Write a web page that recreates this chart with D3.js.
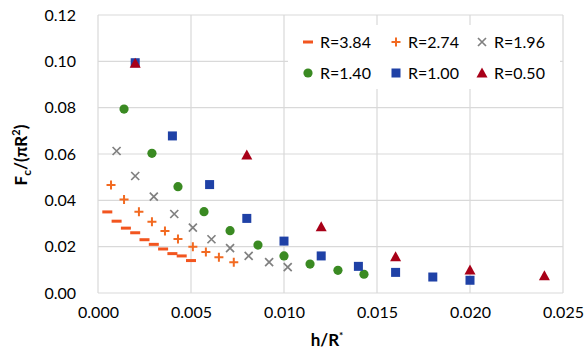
<!DOCTYPE html>
<html>
<head>
<meta charset="utf-8">
<script src="https://cdn.jsdelivr.net/npm/d3@7"></script>
<style>
body{margin:0;background:#fff;}
text{font-family:Lato,"Open Sans",sans-serif;fill:#000;}
</style>
</head>
<body>
<div id="chart"></div>
<script>
// valores
var xTicks = [0, 0.005, 0.010, 0.015, 0.020, 0.025];
var yTicks = [0, 0.02, 0.04, 0.06, 0.08, 0.10, 0.12];

var x384 = [0.0005, 0.0010, 0.0015, 0.0020, 0.0025, 0.0030, 0.0035, 0.0040, 0.0045, 0.0050];
var y384 = [0.035, 0.031, 0.028, 0.026, 0.023, 0.021, 0.019, 0.017, 0.016, 0.014];

var x274 = [0.0007, 0.0014, 0.0022, 0.0029, 0.0036, 0.0043, 0.0051, 0.0058, 0.0065, 0.0073];
var y274 = [0.0466, 0.0404, 0.0351, 0.0308, 0.0268, 0.0233, 0.0200, 0.0177, 0.0154, 0.0133];

var x196 = [0.0010, 0.0020, 0.0030, 0.0041, 0.0051, 0.0061, 0.0071, 0.0081, 0.0092, 0.0102];
var y196 = [0.0613, 0.0505, 0.0416, 0.0341, 0.0282, 0.0232, 0.0194, 0.0160, 0.0133, 0.0112];

var x140 = [0.0014, 0.0029, 0.0043, 0.0057, 0.0071, 0.0086, 0.0100, 0.0114, 0.0129, 0.0143];
var y140 = [0.0794, 0.0603, 0.0459, 0.0351, 0.0269, 0.0207, 0.0160, 0.0125, 0.0098, 0.0081];

var x100 = [0.002, 0.004, 0.006, 0.008, 0.010, 0.012, 0.014, 0.016, 0.018, 0.020];
var y100 = [0.0994, 0.0678, 0.0468, 0.0322, 0.0224, 0.0160, 0.0115, 0.0089, 0.0069, 0.0055];

var x050 = [0.002, 0.008, 0.012, 0.016, 0.020, 0.024];
var y050 = [0.0992, 0.0596, 0.0286, 0.0157, 0.0099, 0.0075];

var names = ["R=3.84", "R=2.74", "R=1.96", "R=1.40", "R=1.00", "R=0.50"];

var series = [
  {name: names[0], xs: x384, ys: y384, shape: "dash",   color: "#f2551f"},
  {name: names[1], xs: x274, ys: y274, shape: "plus",   color: "#f26a21"},
  {name: names[2], xs: x196, ys: y196, shape: "cross",  color: "#808080"},
  {name: names[3], xs: x140, ys: y140, shape: "circle", color: "#3a8a22"},
  {name: names[4], xs: x100, ys: y100, shape: "square", color: "#1f41a6"},
  {name: names[5], xs: x050, ys: y050, shape: "tri",    color: "#a80018"}
];

var W = 584, H = 353;
var svg = d3.select("#chart").append("svg")
    .attr("width", W).attr("height", H);

var x = d3.scaleLinear().domain([0, 0.025]).range([98, 563]);
var y = d3.scaleLinear().domain([0, 0.12]).range([293, 15]);

// grade
svg.append("g").selectAll("line.h").data(yTicks).enter().append("line")
    .attr("x1", x(0)).attr("x2", x(0.025))
    .attr("y1", function(d){ return y(d); }).attr("y2", function(d){ return y(d); })
    .attr("stroke", "#d9d9d9").attr("stroke-width", 1.2);
svg.append("g").selectAll("line.v").data(xTicks).enter().append("line")
    .attr("y1", y(0)).attr("y2", y(0.12))
    .attr("x1", function(d){ return x(d); }).attr("x2", function(d){ return x(d); })
    .attr("stroke", "#d9d9d9").attr("stroke-width", 1.2);

// eixos (só os textos)
var yAxis = svg.append("g").attr("transform", "translate(" + x(0) + ",0)")
    .call(d3.axisLeft(y).tickValues(yTicks).tickFormat(d3.format(".2f")).tickSize(0).tickPadding(22));
var xAxis = svg.append("g").attr("transform", "translate(0," + y(0) + ")")
    .call(d3.axisBottom(x).tickValues(xTicks).tickFormat(d3.format(".3f")).tickSize(0).tickPadding(14));
[yAxis, xAxis].forEach(function(a){
  a.select(".domain").remove();
  a.selectAll("text").attr("font-size", 16).attr("font-family", "Lato, sans-serif").attr("fill", "#000");
});

// títulos
svg.append("text").attr("x", 327).attr("y", 346).attr("text-anchor", "middle")
    .attr("font-size", 17).attr("font-weight", "bold")
    .html('h/R<tspan font-size="10" dy="-7">*</tspan>');

svg.append("text")
    .attr("transform", "translate(27,155) rotate(-90)")
    .attr("text-anchor", "middle")
    .attr("font-size", 17).attr("font-weight", "bold")
    .html('F<tspan font-size="12" dy="4">c</tspan><tspan dy="-4">/(πR</tspan><tspan font-size="11" dy="-7">2</tspan><tspan dy="7">)</tspan>');

// marcadores
function marker(g, shape, color){
  if (shape === "dash") {
    g.append("rect").attr("x", -5).attr("y", -1.5).attr("width", 10).attr("height", 3).attr("fill", color);
  } else if (shape === "plus") {
    g.append("path").attr("d", "M-4.5,0H4.5M0,-4.5V4.5").attr("stroke", color).attr("stroke-width", 2).attr("fill", "none");
  } else if (shape === "cross") {
    g.append("path").attr("d", "M-4,-4L4,4M-4,4L4,-4").attr("stroke", color).attr("stroke-width", 1.7).attr("fill", "none");
  } else if (shape === "circle") {
    g.append("circle").attr("r", 4.6).attr("fill", color);
  } else if (shape === "square") {
    g.append("rect").attr("x", -4.5).attr("y", -4.5).attr("width", 9).attr("height", 9).attr("fill", color);
  } else if (shape === "tri") {
    g.append("path").attr("d", "M0,-5.5L5.5,4.5L-5.5,4.5Z").attr("fill", color);
  }
}

series.forEach(function(s){
  var g = svg.append("g");
  s.xs.forEach(function(xv, i){
    var m = g.append("g").attr("transform", "translate(" + x(xv) + "," + y(s.ys[i]) + ")");
    marker(m, s.shape, s.color);
  });
});

// legenda
var leg = svg.append("g");
leg.append("rect").attr("x", 288).attr("y", 25).attr("width", 272).attr("height", 64).attr("fill", "#fff");
var colX = [308, 396, 482];
var rowY = [42, 73];
series.forEach(function(s, i){
  var cx = colX[i % 3], cy = rowY[Math.floor(i / 3)];
  var m = leg.append("g").attr("transform", "translate(" + cx + "," + cy + ")");
  marker(m, s.shape, s.color);
  leg.append("text").attr("x", cx + 12).attr("y", cy + 6).attr("font-size", 16).text(s.name);
});
</script>
</body>
</html>
